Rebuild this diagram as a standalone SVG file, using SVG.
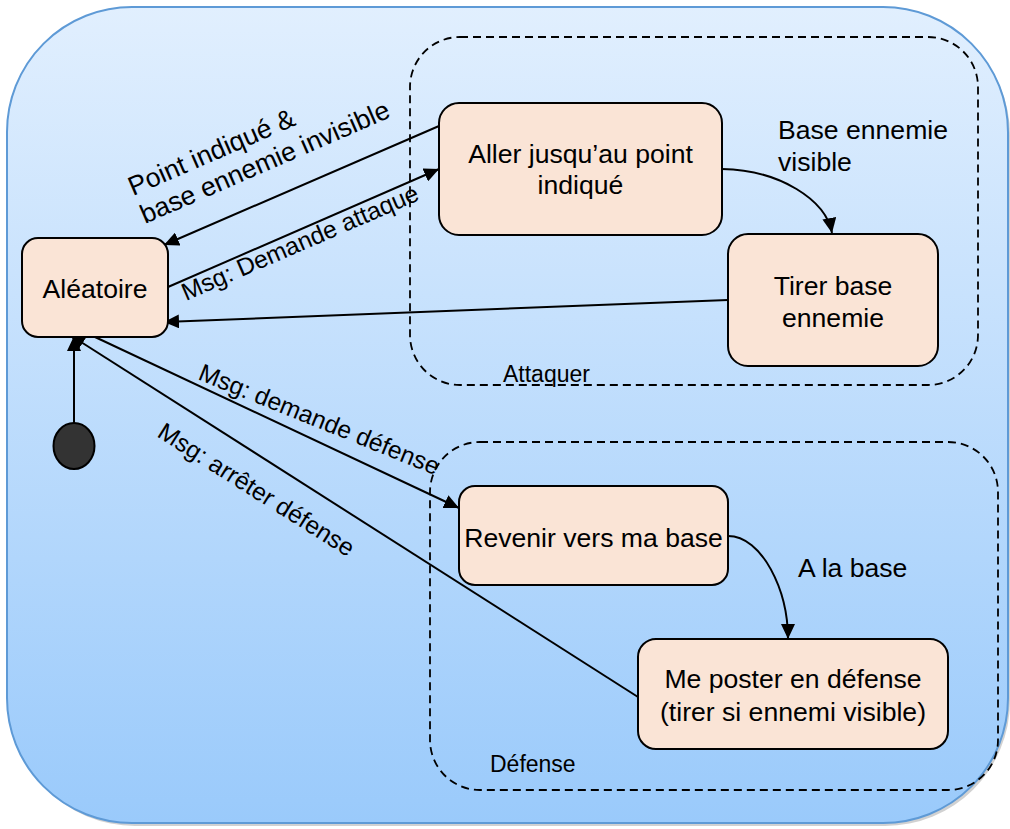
<svg xmlns="http://www.w3.org/2000/svg" width="1010" height="829" viewBox="0 0 1010 829">
  <defs>
    <linearGradient id="bg" x1="0" y1="0" x2="0" y2="1">
      <stop offset="0" stop-color="#e1effe"/>
      <stop offset="1" stop-color="#9acafb"/>
    </linearGradient>
    <marker id="arr" markerUnits="userSpaceOnUse" markerWidth="16" markerHeight="14" refX="15" refY="7" orient="auto">
      <path d="M0,0 L15,7 L0,14 z" fill="#000"/>
    </marker>
  </defs>
  <style>
    .state { fill: #fae4d6; stroke: #000; stroke-width: 2; }
    .region { fill: none; stroke: #000; stroke-width: 1.8; stroke-dasharray: 8 5; }
    .edge { fill: none; stroke: #000; stroke-width: 2; marker-end: url(#arr); }
    .t { font-family: "Liberation Sans", Arial, sans-serif; font-size: 26.6px; fill: #000; }
    .n { text-anchor: middle; }
    .s { font-family: "Liberation Sans", Arial, sans-serif; font-size: 23px; fill: #000; }
    .e { font-family: "Liberation Sans", Arial, sans-serif; font-size: 24.6px; fill: #000; }
  </style>

  <!-- outer frame -->
  <rect x="10" y="10" width="1000" height="816" rx="125" fill="#9a9a9a" opacity="0.45"/>
  <rect x="7" y="7" width="1001" height="816" rx="125" fill="url(#bg)" stroke="#5e9ad6" stroke-width="2"/>

  <!-- composite regions -->
  <g id="attaquer">
    <rect class="region" x="410" y="37" width="568" height="348" rx="50"/>
    <text class="s" x="503" y="382">Attaquer</text>
  </g>
  <g id="defense">
    <rect class="region" x="430" y="442" width="568" height="348" rx="50"/>
    <text class="s" x="490" y="772">Défense</text>
  </g>

  <!-- transitions -->
  <g id="connectors">
    <line class="edge" x1="74" y1="423" x2="74" y2="336"/>
    <line class="edge" x1="439" y1="126" x2="164" y2="245"/>
    <line class="edge" x1="168" y1="287" x2="439" y2="169"/>
    <line class="edge" x1="728" y1="300" x2="164" y2="322"/>
    <line class="edge" x1="95" y1="337" x2="459" y2="508"/>
    <line class="edge" x1="638" y1="697" x2="70" y2="335"/>
    <path class="edge" d="M722,169 C780,170 826,200 832,233"/>
    <path class="edge" d="M728,536 C762,536 788,590 788,639"/>

    <text class="t" transform="translate(133,196) rotate(-23.5)">Point indiqué &amp;</text>
    <text class="t" transform="translate(145,224) rotate(-23.5)">base ennemie invisible</text>
    <text class="e" transform="translate(186,301) rotate(-23.4)">Msg: Demande attaque</text>
    <text class="e" transform="translate(197,379) rotate(22)">Msg: demande défense</text>
    <text class="e" transform="translate(156,436) rotate(32.3)">Msg: arrêter défense</text>
    <text class="t" x="778" y="139">Base ennemie</text>
    <text class="t" x="778" y="171">visible</text>
    <text class="t" x="798" y="577">A la base</text>
  </g>

  <!-- initial pseudo-state -->
  <g id="initial">
    <ellipse cx="74" cy="446" rx="20.5" ry="23" fill="#333" stroke="#000" stroke-width="2"/>
  </g>

  <!-- states -->
  <g id="aleatoire">
    <rect class="state" x="22" y="238" width="146" height="99" rx="16"/>
    <text class="t n" x="95" y="298">Aléatoire</text>
  </g>
  <g id="aller">
    <rect class="state" x="439" y="103" width="283" height="132" rx="20"/>
    <text class="t n" x="580.5" y="163">Aller jusqu’au point</text>
    <text class="t n" x="580.5" y="194">indiqué</text>
  </g>
  <g id="tirer">
    <rect class="state" x="728" y="234" width="210" height="132" rx="20"/>
    <text class="t n" x="833" y="295">Tirer base</text>
    <text class="t n" x="833" y="327">ennemie</text>
  </g>
  <g id="revenir">
    <rect class="state" x="459" y="486" width="269" height="99" rx="16"/>
    <text class="t n" x="593.5" y="547">Revenir vers ma base</text>
  </g>
  <g id="poster">
    <rect class="state" x="638" y="639" width="310" height="110" rx="18"/>
    <text class="t n" x="793" y="688">Me poster en défense</text>
    <text class="t n" x="793" y="721">(tirer si ennemi visible)</text>
  </g>
</svg>
